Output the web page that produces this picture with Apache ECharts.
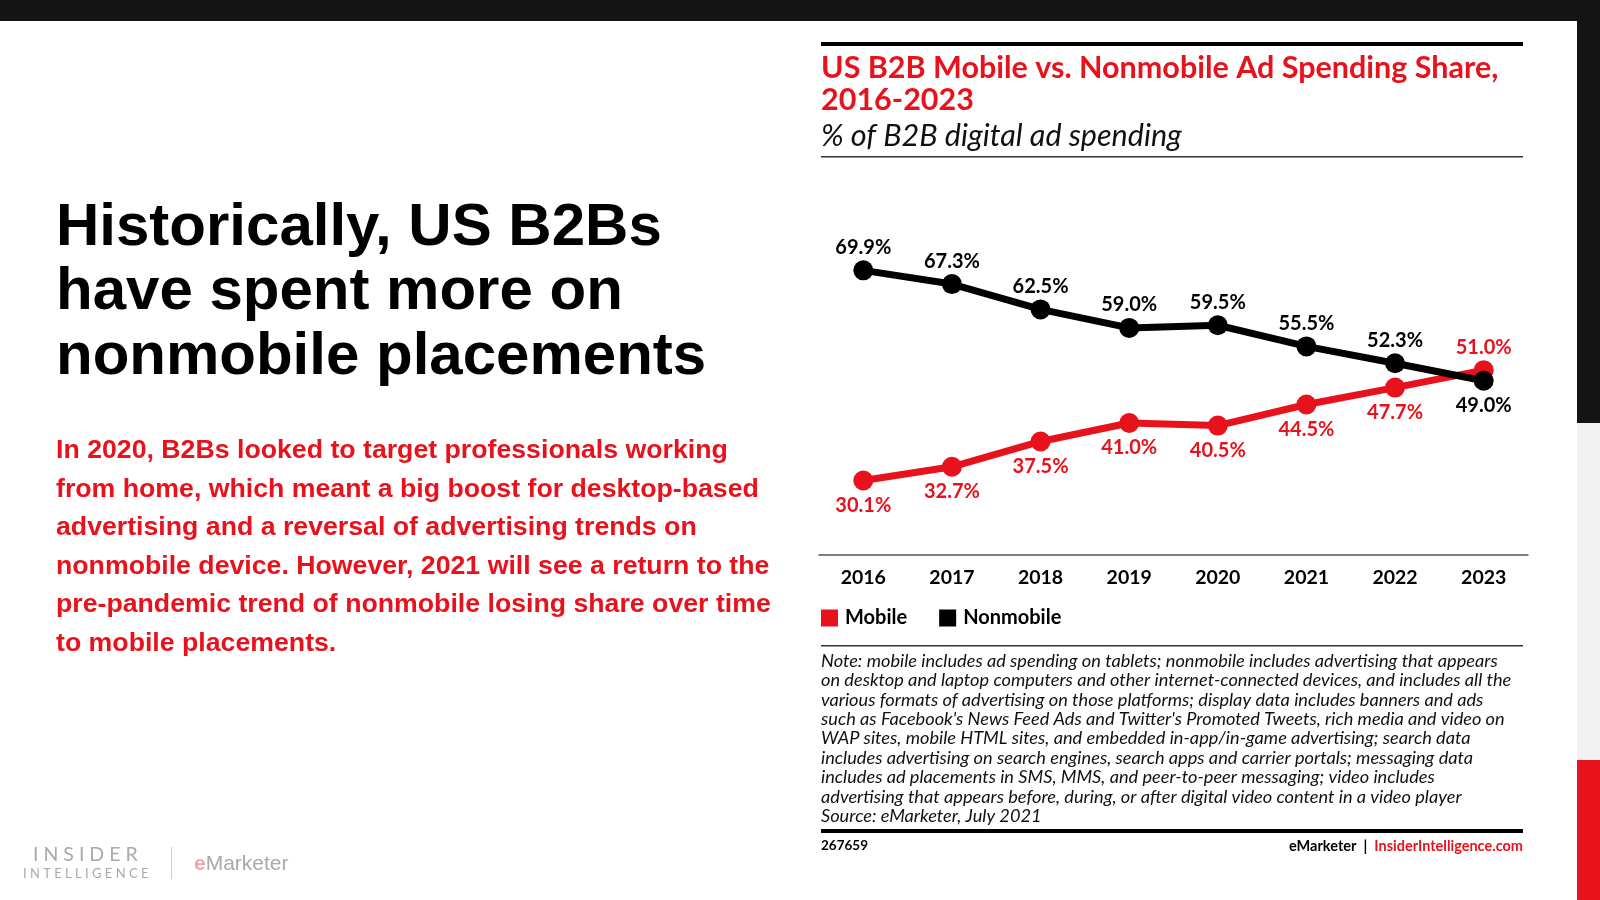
<!DOCTYPE html>
<html>
<head>
<meta charset="utf-8">
<script src="https://cdn.jsdelivr.net/npm/echarts@6/dist/echarts.min.js"></script>
<style>
  html, body { margin: 0; padding: 0; background: #ffffff; }
  #chart { width: 1600px; height: 900px; }
</style>
</head>
<body>
<div id="chart"></div>
<script>
// US B2B mobile vs nonmobile ad spending share, 2016-2023 (eMarketer slide)

const years     = ['2016', '2017', '2018', '2019', '2020', '2021', '2022', '2023'];
const mobile    = [30.1, 32.7, 37.5, 41.0, 40.5, 44.5, 47.7, 51.0];
const nonmobile = [69.9, 67.3, 62.5, 59.0, 59.5, 55.5, 52.3, 49.0];

const headline = [
  'Historically, US B2Bs',
  'have spent more on',
  'nonmobile placements'
];
const bodyLines = [
  'In 2020, B2Bs looked to target professionals working',
  'from home, which meant a big boost for desktop-based',
  'advertising and a reversal of advertising trends on',
  'nonmobile device. However, 2021 will see a return to the',
  'pre-pandemic trend of nonmobile losing share over time',
  'to mobile placements.'
];
const noteLines = [
  'Note: mobile includes ad spending on tablets; nonmobile includes advertising that appears',
  'on desktop and laptop computers and other internet-connected devices, and includes all the',
  'various formats of advertising on those platforms; display data includes banners and ads',
  "such as Facebook's News Feed Ads and Twitter's Promoted Tweets, rich media and video on",
  'WAP sites, mobile HTML sites, and embedded in-app/in-game advertising; search data',
  'includes advertising on search engines, search apps and carrier portals; messaging data',
  'includes ad placements in SMS, MMS, and peer-to-peer messaging; video includes',
  'advertising that appears before, during, or after digital video content in a video player',
  'Source: eMarketer, July 2021'
];

const RED   = '#e8121c';
const BLACK = '#000000';
const SANS  = '"Liberation Sans", Arial, sans-serif';
const CHART = 'Lato, "Open Sans", sans-serif';

const L = 821, R = 1523;   // chart column edges

const chart = echarts.init(document.getElementById('chart'), null, { renderer: 'canvas' });

const g = [];

// frame: top bar + right edge stripes
g.push({ type: 'rect', shape: { x: 0, y: 0, width: 1600, height: 21 }, style: { fill: '#141414' } });
g.push({ type: 'rect', shape: { x: 1577, y: 0, width: 23, height: 423 }, style: { fill: '#141414' } });
g.push({ type: 'rect', shape: { x: 1577, y: 423, width: 23, height: 337 }, style: { fill: '#f2f2f2' } });
g.push({ type: 'rect', shape: { x: 1577, y: 760, width: 23, height: 140 }, style: { fill: RED } });

// left column copy
headline.forEach((t, i) => {
  g.push({ type: 'text', x: 56, y: 228 + i * 64.5,
    style: { text: t, fill: '#000', font: 'bold 60px ' + SANS, verticalAlign: 'middle' } });
});
bodyLines.forEach((t, i) => {
  g.push({ type: 'text', x: 56, y: 451 + i * 38.5,
    style: { text: t, fill: RED, font: 'bold 26.7px ' + SANS, verticalAlign: 'middle' } });
});

// chart header
g.push({ type: 'rect', shape: { x: L, y: 42, width: R - L, height: 4 }, style: { fill: '#000' } });
g.push({ type: 'text', x: L, y: 68,
  style: { text: 'US B2B Mobile vs. Nonmobile Ad Spending Share,', fill: RED, font: 'bold 30.5px ' + CHART, verticalAlign: 'middle' } });
g.push({ type: 'text', x: L, y: 100,
  style: { text: '2016-2023', fill: RED, font: 'bold 30.5px ' + CHART, verticalAlign: 'middle' } });
g.push({ type: 'text', x: L, y: 136,
  style: { text: '% of B2B digital ad spending', fill: '#111', font: 'italic 30.5px ' + CHART, verticalAlign: 'middle' } });
g.push({ type: 'rect', shape: { x: L, y: 156, width: R - L, height: 1.5 }, style: { fill: '#333' } });

// note block
g.push({ type: 'rect', shape: { x: L, y: 645, width: R - L, height: 1.5 }, style: { fill: '#333' } });
noteLines.forEach((t, i) => {
  g.push({ type: 'text', x: L, y: 661 + i * 19.4,
    style: { text: t, fill: '#111', font: 'italic 18.2px ' + CHART, verticalAlign: 'middle' } });
});
g.push({ type: 'rect', shape: { x: L, y: 829, width: R - L, height: 4 }, style: { fill: '#000' } });
g.push({ type: 'text', x: L, y: 846,
  style: { text: '267659', fill: '#000', font: 'bold 13.5px ' + CHART, verticalAlign: 'middle' } });
g.push({ type: 'text', x: R, y: 846,
  style: {
    text: '{a|eMarketer  |  }{b|InsiderIntelligence.com}', align: 'right', verticalAlign: 'middle',
    rich: {
      a: { fill: '#000', font: 'bold 14.5px ' + CHART },
      b: { fill: RED, font: 'bold 14.5px ' + CHART }
    }
  } });

// bottom-left logos
g.push({ type: 'text', x: 33, y: 855,
  style: { text: 'I N S I D E R', fill: '#a9a9a9', font: '19.5px ' + CHART, verticalAlign: 'middle' } });
g.push({ type: 'text', x: 23, y: 874,
  style: { text: 'I N T E L L I G E N C E', fill: '#a9a9a9', font: '13px ' + CHART, verticalAlign: 'middle' } });
g.push({ type: 'rect', shape: { x: 171, y: 847, width: 1, height: 32 }, style: { fill: '#cccccc' } });
g.push({ type: 'text', x: 194, y: 864,
  style: {
    text: '{e|e}{m|Marketer}', verticalAlign: 'middle',
    rich: {
      e: { fill: '#f3a5a8', font: 'bold 21px ' + SANS },
      m: { fill: '#a9a9a9', font: '21px ' + SANS }
    }
  } });

// labels sit above/below the line; the 2023 points swap sides where the lines cross
function points(values, above, color) {
  const last = values.length - 1;
  return values.map((v, i) => {
    const up = i === last ? !above : above;
    return {
      value: v,
      label: { position: up ? 'top' : 'bottom', distance: up ? 3 : 5, color: color }
    };
  });
}

chart.setOption({
  animation: false,
  backgroundColor: '#ffffff',
  graphic: g,
  legend: {
    left: L, top: 608, padding: 0,
    icon: 'rect', itemWidth: 17, itemHeight: 17, itemGap: 32,
    textStyle: { fontFamily: CHART, fontWeight: 'bold', fontSize: 20, color: '#000', padding: [0, 0, 0, 2] },
    data: ['Mobile', 'Nonmobile']
  },
  grid: { left: 819, right: 72, top: 217, bottom: 345 },
  xAxis: {
    type: 'category',
    data: years,
    boundaryGap: true,
    axisLine: { lineStyle: { color: '#555', width: 1.5 } },
    axisTick: { alignWithLabel: true, length: 5, lineStyle: { color: '#777' } },
    axisLabel: { fontFamily: CHART, fontWeight: 'bold', fontSize: 19.5, color: '#000', margin: 13 }
  },
  yAxis: {
    type: 'value', min: 16, max: 80,
    show: false
  },
  series: [{
    name: 'Mobile',
    type: 'line',
    data: points(mobile, false, RED),
    color: RED,
    lineStyle: { width: 7, color: RED },
    symbol: 'circle', symbolSize: 20,
    itemStyle: { color: RED },
    label: {
      show: true, formatter: p => p.value.toFixed(1) + '%',
      fontFamily: CHART, fontWeight: 'bold', fontSize: 20
    }
  }, {
    name: 'Nonmobile',
    type: 'line',
    data: points(nonmobile, true, BLACK),
    color: BLACK,
    lineStyle: { width: 7, color: BLACK },
    symbol: 'circle', symbolSize: 20,
    itemStyle: { color: BLACK },
    label: {
      show: true, formatter: p => p.value.toFixed(1) + '%',
      fontFamily: CHART, fontWeight: 'bold', fontSize: 20
    }
  }]
});
</script>
</body>
</html>
